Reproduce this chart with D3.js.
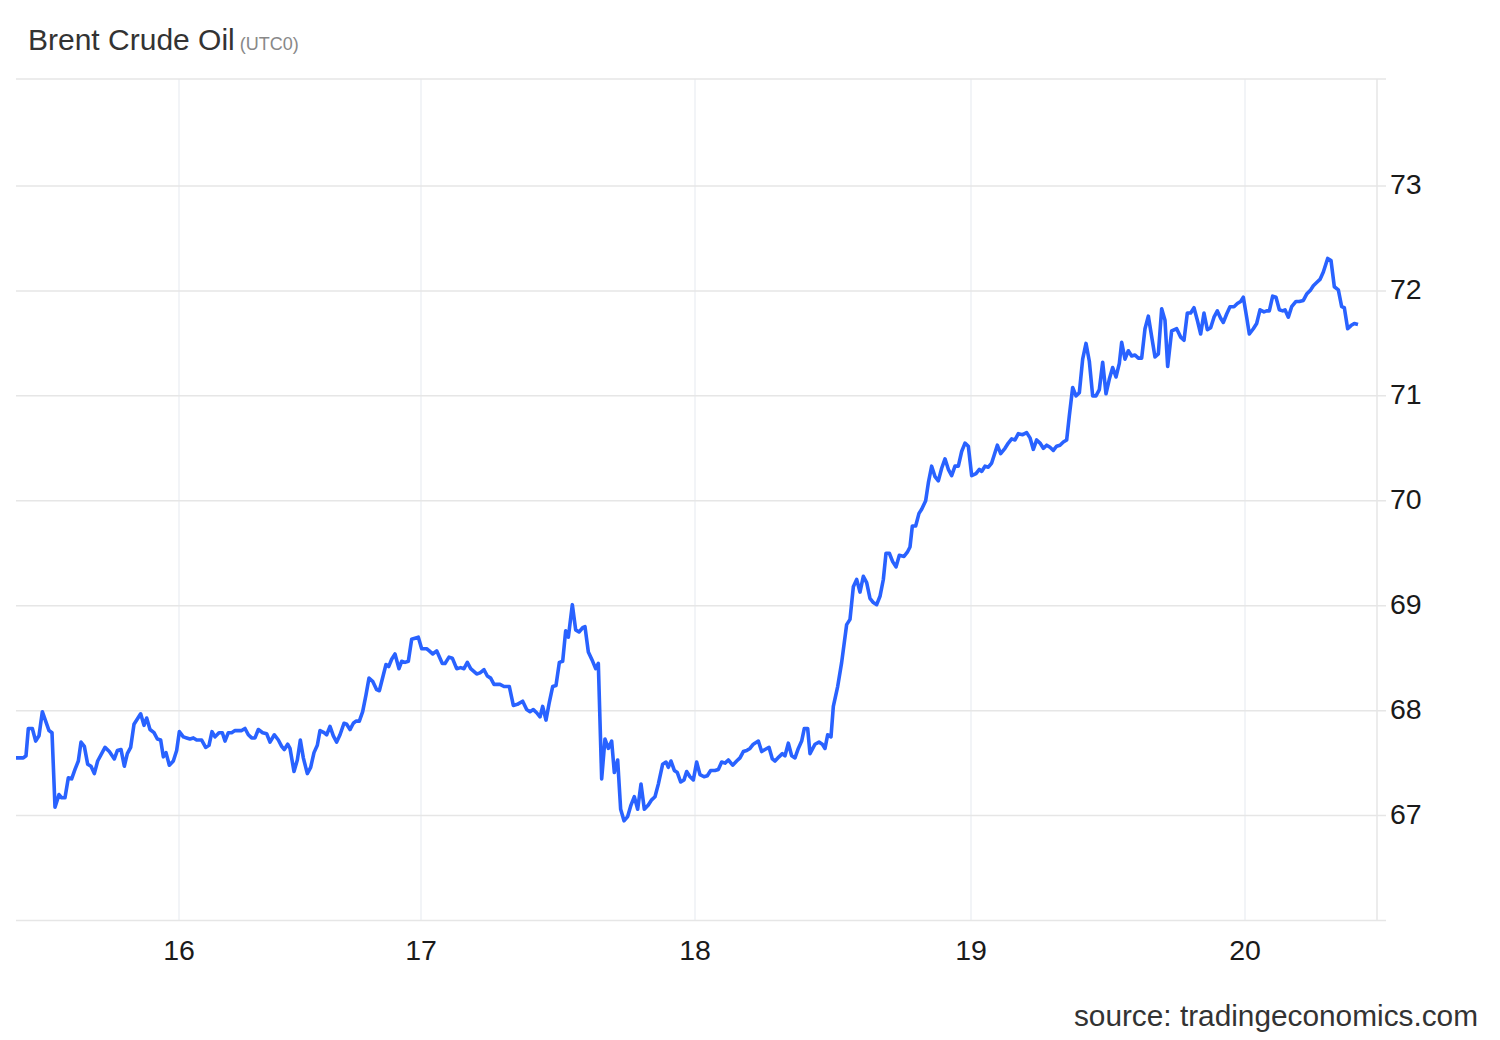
<!DOCTYPE html>
<html>
<head>
<meta charset="utf-8">
<script src="https://cdn.jsdelivr.net/npm/d3@7"></script>
<style>
  html, body { margin: 0; padding: 0; background: #fff; }
  svg { display: block; font-family: "Liberation Sans", Arial, sans-serif; }
</style>
</head>
<body>
<svg id="chart" width="1500" height="1040"></svg>
<script>
// ---- Data (x = intraday bar index, ~17.5 min per bar; y = USD/bbl) ----
const barIndex = [
  0.0, 2.2, 3.0, 3.7, 4.9, 5.9, 6.9, 7.9, 8.9, 9.9, 10.8, 11.7, 12.9, 13.7, 14.7, 15.7, 16.7, 17.7, 18.7, 19.5,
  20.5, 21.5, 22.5, 23.5, 24.5, 26.7, 28.0, 29.5, 30.4, 31.5, 32.5, 33.4, 34.4, 35.4, 37.4, 38.4, 39.2, 40.2, 41.4, 42.4,
  43.4, 44.2, 45.0, 46.0, 47.2, 48.2, 49.0, 50.2, 51.2, 52.2, 53.2, 54.2, 55.7, 56.9, 57.9, 58.8, 59.7, 60.9, 61.9, 62.7,
  63.7, 64.7, 65.7, 67.7, 68.7, 69.7, 70.7, 71.7, 72.7, 74.0, 75.2, 76.2, 77.5, 78.7, 79.7, 80.5, 81.5, 82.2, 83.4, 84.4,
  85.3, 86.2, 87.4, 88.4, 89.4, 90.4, 91.2, 92.4, 93.2, 94.2, 95.2, 96.2, 97.2, 98.4, 99.2, 100.2, 101.2, 102.0, 103.0, 104.0,
  105.0, 105.9, 107.0, 108.2, 109.0, 110.2, 111.0, 111.8, 112.7, 113.7, 114.9, 115.7, 116.7, 117.7, 118.7, 119.7, 120.7, 121.7, 123.2, 124.0,
  125.0, 126.2, 127.9, 128.7, 129.9, 130.9, 132.2, 133.4, 134.4, 135.4, 136.4, 138.2, 139.2, 140.4, 141.4, 142.4, 143.4, 145.2, 146.4, 148.0,
  149.2, 150.4, 152.0, 153.2, 154.2, 155.2, 156.2, 157.2, 158.0, 159.0, 160.0, 161.0, 162.0, 163.0, 164.0, 164.9, 165.7, 166.9, 167.9, 168.9,
  170.0, 170.7, 171.7, 173.0, 173.9, 174.7, 175.7, 176.7, 177.7, 178.7, 179.5, 180.5, 181.4, 182.4, 183.5, 184.5, 185.5, 186.5, 187.5, 188.5,
  189.7, 190.7, 191.7, 192.7, 194.0, 195.0, 195.7, 196.5, 197.5, 198.4, 199.4, 200.4, 201.2, 202.2, 203.2, 204.2, 205.2, 206.4, 207.4, 208.4,
  209.7, 210.7, 211.7, 212.7, 213.7, 215.0, 216.2, 217.2, 218.2, 219.2, 220.2, 221.2, 222.7, 223.7, 224.7, 225.9, 226.9, 227.7, 228.9, 229.9,
  230.7, 231.7, 232.7, 233.7, 234.7, 235.7, 236.5, 237.5, 238.2, 239.7, 240.9, 241.9, 242.7, 243.5, 244.5, 245.2, 246.5, 247.7, 249.2, 250.2,
  251.2, 252.2, 253.2, 254.2, 255.2, 256.2, 257.2, 258.2, 259.2, 260.2, 261.0, 262.0, 263.0, 264.0, 265.0, 266.4, 267.4, 268.2, 268.9, 269.9,
  270.9, 271.7, 272.9, 273.7, 274.7, 275.7, 276.7, 277.7, 278.7, 279.7, 280.7, 281.7, 282.7, 283.7, 284.7, 285.7, 286.7, 288.0, 289.0, 289.7,
  290.7, 291.7, 292.7, 294.4, 295.4, 296.7, 297.7, 298.7, 299.7, 300.7, 302.0, 303.2, 304.2, 305.2, 306.2, 307.2, 308.2, 309.2, 310.2, 311.2,
  312.2, 313.2, 314.2, 315.2, 316.0, 317.0, 318.0, 319.0, 320.0, 321.0, 322.0, 323.0, 324.0, 325.0, 326.0, 327.0, 328.0, 329.0, 330.0, 331.0,
  331.7, 332.7, 333.7, 334.7, 335.7, 336.7, 337.7, 338.7, 339.7, 341.7, 342.7, 343.7, 344.7, 345.5, 346.7, 348.2, 349.4, 350.4, 351.4, 352.4,
  353.4, 354.4, 355.4, 356.4, 357.4, 358.4, 359.4, 360.4, 361.4, 362.2, 363.2, 364.2, 365.4, 366.4, 367.4, 368.2, 369.2, 370.0, 371.2, 372.2,
  373.2, 374.4, 375.2, 376.0, 377.0, 378.0, 379.0, 380.0, 380.7, 381.7, 382.7, 384.0, 385.0, 386.2, 387.2, 388.4, 389.2, 390.2, 391.2, 392.2,
  393.5, 394.5, 395.5, 396.7, 397.7, 398.5, 399.5, 400.5, 401.5, 402.6
];
const price = [
  67.55, 67.55, 67.57, 67.83, 67.83, 67.71, 67.76, 67.99, 67.90, 67.81, 67.79, 67.08, 67.20, 67.17, 67.17, 67.36, 67.35, 67.44, 67.52, 67.70,
  67.66, 67.49, 67.47, 67.40, 67.52, 67.65, 67.61, 67.54, 67.62, 67.63, 67.47, 67.59, 67.65, 67.87, 67.97, 67.86, 67.93, 67.82, 67.79, 67.73,
  67.72, 67.56, 67.60, 67.48, 67.52, 67.62, 67.80, 67.75, 67.74, 67.73, 67.74, 67.72, 67.72, 67.65, 67.67, 67.80, 67.75, 67.79, 67.79, 67.71,
  67.79, 67.79, 67.81, 67.81, 67.83, 67.77, 67.74, 67.74, 67.82, 67.79, 67.78, 67.70, 67.77, 67.72, 67.66, 67.63, 67.68, 67.64, 67.42, 67.53,
  67.72, 67.55, 67.40, 67.46, 67.60, 67.67, 67.81, 67.79, 67.77, 67.85, 67.76, 67.70, 67.77, 67.88, 67.87, 67.82, 67.88, 67.90, 67.90, 67.99,
  68.15, 68.31, 68.28, 68.20, 68.19, 68.34, 68.44, 68.42, 68.49, 68.54, 68.40, 68.47, 68.46, 68.47, 68.68, 68.69, 68.70, 68.59, 68.59, 68.57,
  68.54, 68.57, 68.45, 68.45, 68.51, 68.50, 68.40, 68.41, 68.40, 68.46, 68.40, 68.35, 68.36, 68.39, 68.33, 68.31, 68.25, 68.25, 68.23, 68.23,
  68.05, 68.06, 68.09, 68.01, 67.99, 68.01, 67.98, 67.94, 68.04, 67.91, 68.08, 68.23, 68.24, 68.46, 68.47, 68.76, 68.70, 69.01, 68.77, 68.75,
  68.79, 68.80, 68.56, 68.47, 68.40, 68.45, 67.35, 67.73, 67.64, 67.71, 67.41, 67.53, 67.06, 66.95, 66.99, 67.10, 67.18, 67.06, 67.30, 67.06,
  67.10, 67.15, 67.18, 67.30, 67.49, 67.51, 67.46, 67.52, 67.43, 67.41, 67.32, 67.34, 67.42, 67.37, 67.34, 67.51, 67.39, 67.37, 67.38, 67.43,
  67.43, 67.44, 67.51, 67.50, 67.53, 67.48, 67.52, 67.55, 67.61, 67.62, 67.64, 67.68, 67.71, 67.61, 67.63, 67.65, 67.54, 67.52, 67.56, 67.59,
  67.57, 67.69, 67.57, 67.55, 67.64, 67.71, 67.83, 67.83, 67.59, 67.68, 67.70, 67.68, 67.64, 67.77, 67.75, 68.04, 68.23, 68.46, 68.82, 68.87,
  69.18, 69.25, 69.13, 69.28, 69.22, 69.07, 69.03, 69.01, 69.09, 69.25, 69.50, 69.50, 69.42, 69.37, 69.48, 69.47, 69.51, 69.56, 69.76, 69.76,
  69.88, 69.92, 70.00, 70.17, 70.33, 70.23, 70.19, 70.31, 70.40, 70.30, 70.24, 70.33, 70.33, 70.47, 70.55, 70.52, 70.24, 70.26, 70.30, 70.28,
  70.33, 70.32, 70.36, 70.53, 70.45, 70.50, 70.55, 70.59, 70.58, 70.64, 70.63, 70.65, 70.60, 70.49, 70.58, 70.55, 70.50, 70.53, 70.51, 70.48,
  70.52, 70.53, 70.56, 70.58, 70.81, 71.08, 71.00, 71.03, 71.35, 71.50, 71.33, 71.00, 71.00, 71.06, 71.32, 71.02, 71.16, 71.27, 71.18, 71.31,
  71.51, 71.35, 71.43, 71.38, 71.39, 71.36, 71.36, 71.64, 71.76, 71.37, 71.40, 71.83, 71.72, 71.28, 71.62, 71.64, 71.56, 71.53, 71.79, 71.79,
  71.84, 71.72, 71.59, 71.79, 71.63, 71.65, 71.75, 71.81, 71.74, 71.70, 71.78, 71.85, 71.85, 71.88, 71.90, 71.94, 71.75, 71.59, 71.64, 71.69,
  71.82, 71.80, 71.81, 71.81, 71.95, 71.94, 71.82, 71.81, 71.82, 71.75, 71.85, 71.90, 71.90, 71.91, 71.97, 72.01, 72.05, 72.08, 72.11, 72.18,
  72.31, 72.29, 72.04, 72.01, 71.85, 71.84, 71.64, 71.67, 71.69, 71.68
];
const xDomain = [0, 408.3];
const yDomain = [66, 74.02];
const dayTickIndex = [48.9, 121.5, 203.7, 286.5, 368.7];
const dayTickLabels = ["16", "17", "18", "19", "20"];
const priceTicks = [67, 68, 69, 70, 71, 72, 73];
const titleText = "Brent Crude Oil";
const subtitleText = "(UTC0)";
const sourceText = "source: tradingeconomics.com";

// ---- Layout ----
const plotLeft = 16, plotRight = 1377, plotTop = 79, plotBottom = 920.5, tickLen = 9;

const svg = d3.select("#chart");
const x = d3.scaleLinear().domain(xDomain).range([plotLeft, plotRight]);
const y = d3.scaleLinear().domain(yDomain).range([plotBottom, plotTop]);

// vertical day gridlines
svg.append("g").selectAll("line").data(dayTickIndex).join("line")
  .attr("x1", d => x(d)).attr("x2", d => x(d))
  .attr("y1", plotTop).attr("y2", plotBottom)
  .attr("stroke", "#eef1f5").attr("stroke-width", 1.5);

// horizontal gridlines (including top edge)
svg.append("g").selectAll("line").data(priceTicks.concat([yDomain[1]])).join("line")
  .attr("x1", plotLeft).attr("x2", plotRight + tickLen)
  .attr("y1", d => y(d)).attr("y2", d => y(d))
  .attr("stroke", "#e6e6e6").attr("stroke-width", 1.5);

// bottom axis line
svg.append("line")
  .attr("x1", plotLeft).attr("x2", plotRight + tickLen)
  .attr("y1", y(yDomain[0])).attr("y2", y(yDomain[0]))
  .attr("stroke", "#e6e6e6").attr("stroke-width", 1.5);

// right axis line
svg.append("line")
  .attr("x1", plotRight).attr("x2", plotRight)
  .attr("y1", plotTop).attr("y2", plotBottom)
  .attr("stroke", "#e6e6e6").attr("stroke-width", 1.5);

// y labels
svg.append("g").selectAll("text").data(priceTicks).join("text")
  .attr("x", plotRight + 13).attr("y", d => y(d) + 8)
  .attr("font-size", 28.5).attr("fill", "#1a1a1a")
  .text(d => d);

// x labels
svg.append("g").selectAll("text").data(dayTickIndex).join("text")
  .attr("x", d => x(d)).attr("y", 960)
  .attr("text-anchor", "middle")
  .attr("font-size", 28.5).attr("fill", "#1a1a1a")
  .text((d, i) => dayTickLabels[i]);

// line
const pts = barIndex.map((t, i) => [t, price[i]]);
svg.append("path")
  .datum(pts)
  .attr("fill", "none")
  .attr("stroke", "#2962ff")
  .attr("stroke-width", 3.6)
  .attr("stroke-linejoin", "round")
  .attr("d", d3.line().x(d => x(d[0])).y(d => y(d[1])));

// title
const title = svg.append("text").attr("x", 28).attr("y", 50).attr("fill", "#333").attr("font-size", 30);
title.append("tspan").text(titleText);
title.append("tspan").attr("dx", 5).attr("font-size", 18).attr("fill", "#888").text(subtitleText);

// source
svg.append("text").attr("x", 1478).attr("y", 1026).attr("text-anchor", "end")
  .attr("font-size", 29.8).attr("fill", "#333").text(sourceText);
</script>
</body>
</html>
